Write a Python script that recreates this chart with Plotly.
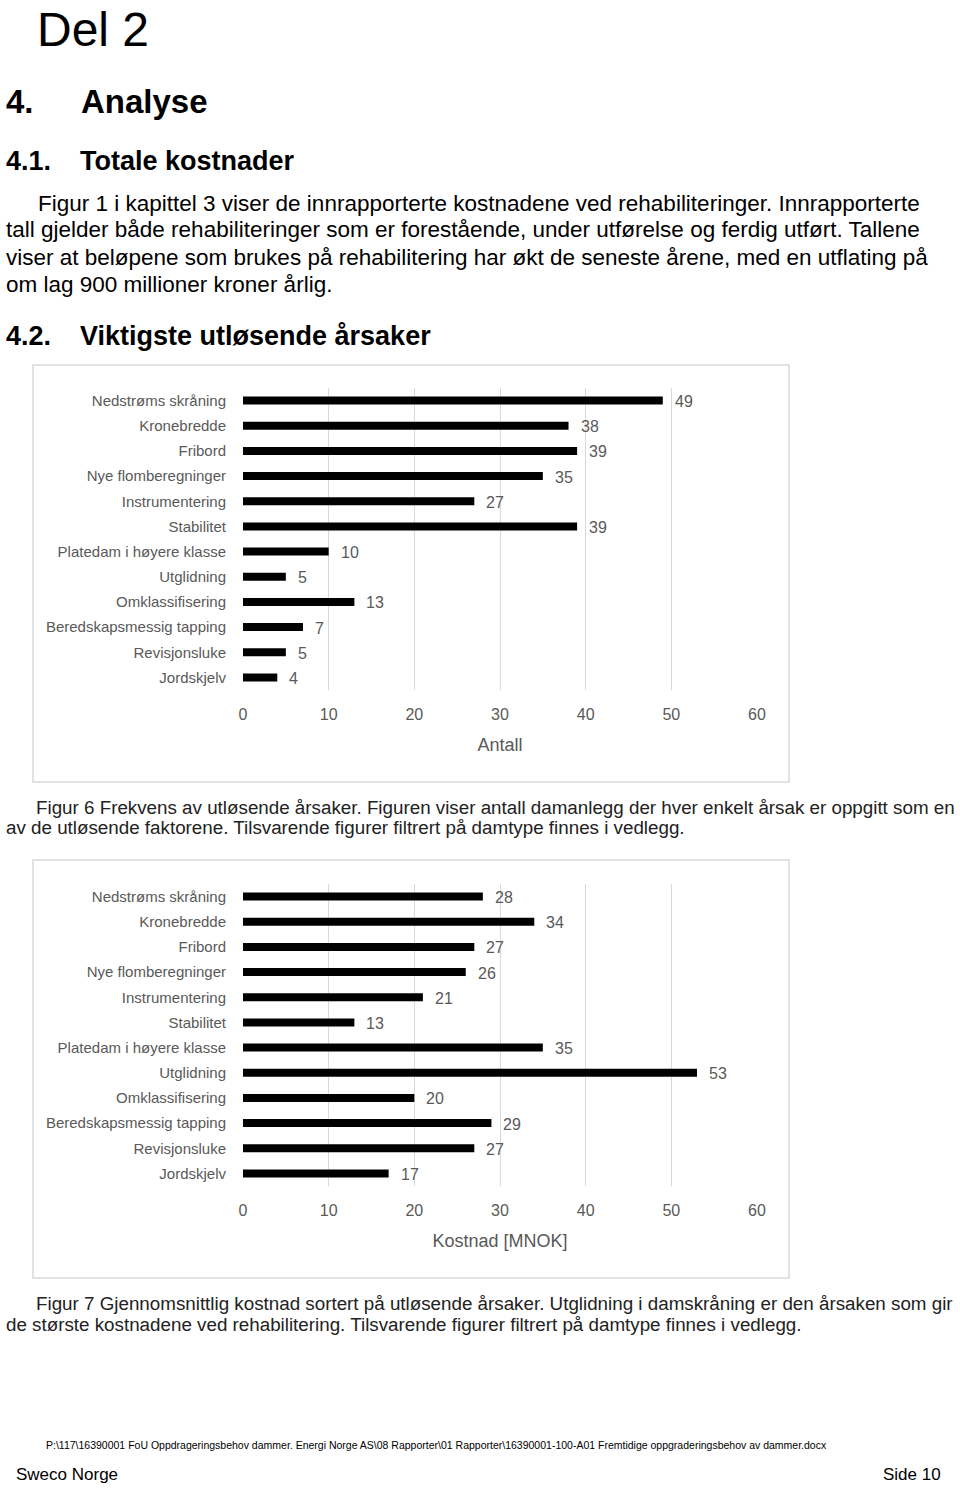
import plotly.graph_objects as go

W, H = 960, 1488

categories = [
    "Nedstrøms skråning", "Kronebredde", "Fribord", "Nye flomberegninger",
    "Instrumentering", "Stabilitet", "Platedam i høyere klasse", "Utglidning",
    "Omklassifisering", "Beredskapsmessig tapping", "Revisjonsluke", "Jordskjelv",
]
antall = [49, 38, 39, 35, 27, 39, 10, 5, 13, 7, 5, 4]
kostnad = [28, 34, 27, 26, 21, 13, 35, 53, 20, 29, 27, 17]
x_ticks = [0, 10, 20, 30, 40, 50, 60]

FONT = "Liberation Sans"
GRAY = "#595959"
GRID = "#d9d9d9"


def py(ypx):
    return 1 - ypx / H


def px(xpx):
    return xpx / W


fig = go.Figure()

fig.add_trace(go.Bar(x=antall, y=categories, orientation="h", marker_color="black",
                     marker_line_width=0, xaxis="x", yaxis="y", showlegend=False,
                     hoverinfo="x+y"))
fig.add_trace(go.Bar(x=kostnad, y=categories, orientation="h", marker_color="black",
                     marker_line_width=0, xaxis="x2", yaxis="y2", showlegend=False,
                     hoverinfo="x+y"))

xcommon = dict(range=[0, 60], tickvals=x_ticks, showgrid=True, gridcolor=GRID, gridwidth=1,
               zeroline=False, showline=False, ticks="outside", ticklen=10,
               tickcolor="rgba(0,0,0,0)", tickfont=dict(family=FONT, size=16, color=GRAY),
               automargin=False, fixedrange=True)
ycommon = dict(type="category", categoryorder="array", categoryarray=categories,
               autorange="reversed", showgrid=False, zeroline=False, showline=False,
               ticks="outside", ticklen=13, tickcolor="rgba(0,0,0,0)",
               tickfont=dict(family=FONT, size=15, color=GRAY), automargin=False,
               fixedrange=True)

fig.update_layout(
    width=W, height=H, margin=dict(l=0, r=0, t=0, b=0),
    paper_bgcolor="white", plot_bgcolor="white", bargap=0.68,
    xaxis=dict(domain=[px(243), px(757)], anchor="y",
               title=dict(text="Antall", font=dict(family=FONT, size=18, color=GRAY), standoff=16),
               **xcommon),
    yaxis=dict(domain=[py(690), py(388)], anchor="x", **ycommon),
    xaxis2=dict(domain=[px(243), px(757)], anchor="y2",
                title=dict(text="Kostnad [MNOK]", font=dict(family=FONT, size=18, color=GRAY), standoff=16),
                **xcommon),
    yaxis2=dict(domain=[py(1186), py(884)], anchor="x2", **ycommon),
)

ann = []
# data labels
for xa, ya, vals in (("x", "y", antall), ("x2", "y2", kostnad)):
    for c, v in zip(categories, vals):
        ann.append(dict(x=v, y=c, xref=xa, yref=ya, text=str(v), showarrow=False,
                        xanchor="left", yanchor="middle", xshift=10, yshift=-1,
                        font=dict(family=FONT, size=16, color=GRAY)))


def txt(text, x, y, size, color="black", bold=False, xanchor="left"):
    t = f"<b>{text}</b>" if bold else text
    ann.append(dict(x=px(x), y=py(y), xref="paper", yref="paper", text=t, showarrow=False,
                    xanchor=xanchor, yanchor="middle",
                    font=dict(family=FONT, size=size, color=color)))


txt("Del 2", 35, 29, 48)
txt("4.", 4, 101, 33, bold=True)
txt("Analyse", 79, 101, 33, bold=True)
txt("4.1.", 4, 161, 27, bold=True)
txt("Totale kostnader", 78, 161, 27, bold=True)

body = [
    ("Figur 1 i kapittel 3 viser de innrapporterte kostnadene ved rehabiliteringer. Innrapporterte", 36, 203),
    ("tall gjelder både rehabiliteringer som er forestående, under utførelse og ferdig utført. Tallene", 4, 230),
    ("viser at beløpene som brukes på rehabilitering har økt de seneste årene, med en utflating på", 4, 257),
    ("om lag 900 millioner kroner årlig.", 4, 284),
]
for t, x, y in body:
    txt(t, x, y, 22.5)

txt("4.2.", 4, 336, 27, bold=True)
txt("Viktigste utløsende årsaker", 78, 336, 27, bold=True)

CAP = 18.8
txt("Figur 6 Frekvens av utløsende årsaker. Figuren viser antall damanlegg der hver enkelt årsak er oppgitt som en",
    34, 807, CAP, color="#222")
txt("av de utløsende faktorene. Tilsvarende figurer filtrert på damtype finnes i vedlegg.", 4, 828, CAP, color="#222")
txt("Figur 7 Gjennomsnittlig kostnad sortert på utløsende årsaker. Utglidning i damskråning er den årsaken som gir",
    34, 1303, CAP, color="#222")
txt("de største kostnadene ved rehabilitering. Tilsvarende figurer filtrert på damtype finnes i vedlegg.", 4, 1324, CAP, color="#222")

txt("P:\\117\\16390001 FoU Oppdrageringsbehov dammer. Energi Norge AS\\08 Rapporter\\01 Rapporter\\16390001-100-A01 Fremtidige oppgraderingsbehov av dammer.docx",
    44, 1445, 10.5)
txt("Sweco Norge", 14, 1474, 17)
txt("Side 10", 943, 1474, 17, xanchor="right")

fig.update_layout(annotations=ann)

shapes = []
for top, bot in ((365, 782), (860, 1278)):
    shapes.append(dict(type="rect", xref="paper", yref="paper", x0=px(33), x1=px(789),
                       y0=py(bot), y1=py(top), line=dict(color=GRID, width=1.5),
                       fillcolor="rgba(0,0,0,0)", layer="below"))
fig.update_layout(shapes=shapes)

fig.write_html("out.html")
